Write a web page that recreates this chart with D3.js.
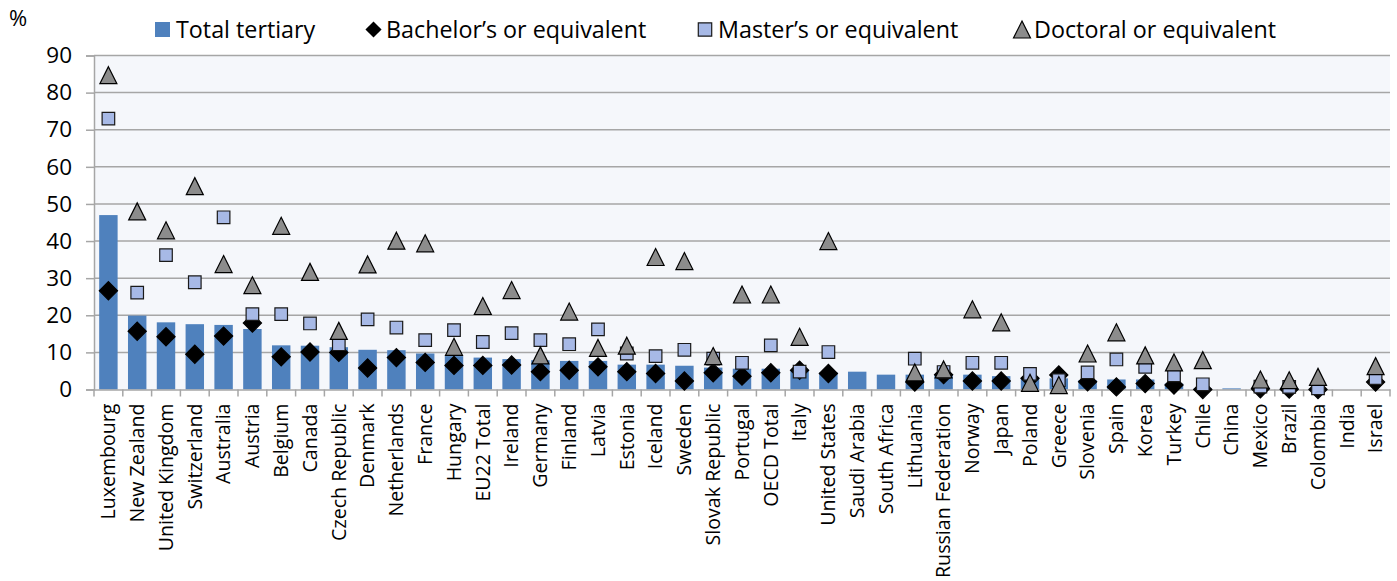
<!DOCTYPE html>
<html>
<head>
<meta charset="utf-8">
<script src="https://cdn.jsdelivr.net/npm/d3@7"></script>
<style>
  body { margin: 0; background: #fff; }
  text { font-family: "Open Sans", "Noto Sans", sans-serif; fill: #000; }
</style>
</head>
<body>
<svg id="chart" width="1397" height="581"></svg>
<script>

var countries = ["Luxembourg", "New Zealand", "United Kingdom", "Switzerland", "Australia", "Austria",
    "Belgium", "Canada", "Czech Republic", "Denmark", "Netherlands", "France", "Hungary", "EU22 Total",
    "Ireland", "Germany", "Finland", "Latvia", "Estonia", "Iceland", "Sweden", "Slovak Republic",
    "Portugal", "OECD Total", "Italy", "United States", "Saudi Arabia", "South Africa", "Lithuania",
    "Russian Federation", "Norway", "Japan", "Poland", "Greece", "Slovenia", "Spain", "Korea", "Turkey",
    "Chile", "China", "Mexico", "Brazil", "Colombia", "India", "Israel"];

var total = [47.0, 19.9, 18.1, 17.6, 17.4, 16.3, 11.9, 11.8, 11.4, 10.7, 10.6, 9.7, 9.0, 8.6,
    8.2, 7.9, 7.7, 7.7, 6.7, 6.7, 6.4, 5.9, 5.6, 5.6, 5.2, 4.6, 4.8, 4.0, 4.0,
    4.0, 4.0, 3.6, 3.0, 3.0, 2.5, 2.7, 2.7, 1.6, 0.3, 0.3, 0.3, 0.3, 0.2, null, null];

var bachelor = [26.6, 15.7, 14.2, 9.5, 14.4, 17.9, 8.8, 10.1, 10.0, 5.8, 8.6, 7.3, 6.5, 6.5,
    6.6, 4.8, 5.2, 6.1, 4.8, 4.3, 2.3, 4.5, 3.6, 4.5, 5.2, 4.3, null, null, 2.0,
    4.0, 2.3, 2.3, 3.0, 3.9, 2.1, 0.7, 1.6, 1.2, 0.0, null, 0.2, 0.1, 0.0, null, 2.0];

var master = [73.0, 26.1, 36.2, 28.9, 46.4, 20.3, 20.3, 17.8, 12.2, 18.9, 16.7, 13.3, 16.0, 12.8,
    15.2, 13.3, 12.2, 16.2, 9.7, 9.0, 10.7, 8.3, 7.2, 11.9, 4.8, 10.1, null, null, 8.3,
    4.7, 7.2, 7.2, 4.2, 2.5, 4.6, 8.1, 6.1, 3.8, 1.4, null, 0.8, 0.7, 0.3, null, 3.1];

var doctoral = [84.7, 48.0, 42.9, 54.8, 33.8, 28.1, 44.1, 31.7, 15.8, 33.7, 40.1, 39.4, 11.5, 22.5,
    26.8, 9.2, 21.0, 11.2, 11.8, 35.7, 34.6, 9.0, 25.6, 25.6, 14.2, 40.0, null, null, 4.6,
    5.4, 21.6, 18.1, 1.8, 1.2, 9.7, 15.4, 9.2, 7.3, 7.9, null, 2.7, 2.5, 3.4, null, 6.3];

var yTicks = [0, 10, 20, 30, 40, 50, 60, 70, 80, 90];
var legendLabels = ["Total tertiary", "Bachelor\u2019s or equivalent", "Master\u2019s or equivalent", "Doctoral or equivalent"];


var svg = d3.select("#chart");
var margin = {left: 94, right: 7, top: 55.5, bottom: 191.5};
var width  = +svg.attr("width")  - margin.left - margin.right,
    height = +svg.attr("height") - margin.top  - margin.bottom;

var x = d3.scaleBand().domain(countries).range([0, width]).paddingInner(0.36).paddingOuter(0.18);
var xc = d3.scaleBand().domain(countries).range([0, width]);
var y = d3.scaleLinear().domain([0, 90]).range([height, 0]);

var g = svg.append("g").attr("transform", "translate(" + margin.left + "," + margin.top + ")");

// plot background + gridlines
g.append("rect").attr("width", width).attr("height", height).attr("fill", "#F5F7FB");
g.selectAll(".grid").data(yTicks.slice(1)).enter().append("line")
    .attr("x1", 0).attr("x2", width)
    .attr("y1", d => y(d)).attr("y2", d => y(d))
    .attr("stroke", "#A6A6A6").attr("stroke-width", 1.5);

// bars
g.selectAll(".bar").data(countries).enter().append("rect")
    .filter((d, i) => total[i] != null)
    .attr("x", d => x(d))
    .attr("width", x.bandwidth())
    .attr("y", d => y(total[countries.indexOf(d)]))
    .attr("height", d => height - y(total[countries.indexOf(d)]))
    .attr("fill", "#4F81BD");

// axes
var yAxis = g.append("g").call(d3.axisLeft(y).tickValues(yTicks).tickSize(8).tickPadding(14));
yAxis.select(".domain").attr("stroke", "#A6A6A6").attr("stroke-width", 1.5);
yAxis.selectAll(".tick line").attr("stroke", "#A6A6A6").attr("stroke-width", 1.5);
yAxis.selectAll("text").attr("font-size", "22.5px").attr("font-family", "Open Sans");

var xAxis = g.append("g").attr("transform", "translate(0," + height + ")")
    .call(d3.axisBottom(xc).tickSize(0).tickPadding(0));
xAxis.select(".domain").attr("stroke", "#A6A6A6").attr("stroke-width", 1.5);
xAxis.selectAll("text")
    .attr("font-size", "19.6px").attr("font-family", "Open Sans")
    .attr("transform", "rotate(-90)")
    .attr("text-anchor", "end")
    .attr("x", -14).attr("y", 0).attr("dy", "0.35em");
// category boundary ticks
g.selectAll(".xtick").data(countries.concat(["_end"])).enter().append("line")
    .attr("x1", (d, i) => i * xc.step()).attr("x2", (d, i) => i * xc.step())
    .attr("y1", height).attr("y2", height + 7)
    .attr("stroke", "#A6A6A6").attr("stroke-width", 1.5);

var cx = d => xc(d) + xc.bandwidth() / 2;

// excel style triangle: as tall as wide, centred on its box
function tri(w) {
    return "M0," + (-w / 2) + "L" + (w / 2) + "," + (w / 2) + "L" + (-w / 2) + "," + (w / 2) + "Z";
}
var diamond = d3.symbol().type(d3.symbolSquare).size(165);
var square = d3.symbol().type(d3.symbolSquare).size(158);

function markers(values, pathFn, rot, fill, stroke) {
    g.append("g").selectAll("path").data(countries).enter().append("path")
        .filter((d, i) => values[i] != null)
        .attr("d", pathFn)
        .attr("transform", d => "translate(" + cx(d) + "," + y(values[countries.indexOf(d)]) + ")" + rot)
        .attr("fill", fill).attr("stroke", stroke).attr("stroke-width", 1.2);
}

markers(bachelor, diamond, " rotate(45)", "#000", "#000");
markers(master, square, "", "#A7B9E6", "#1a1a1a");
markers(doctoral, tri(17), "", "#8C8C8C", "#000");

// legend
var legX = [155, 365, 697, 1013];
var leg = svg.append("g");
leg.append("rect").attr("x", legX[0]).attr("y", 22).attr("width", 15).attr("height", 15).attr("fill", "#4F81BD");
leg.append("path").attr("d", d3.symbol().type(d3.symbolSquare).size(130))
    .attr("transform", "translate(" + (legX[1] + 8.5) + ",29.5) rotate(45)").attr("fill", "#000");
leg.append("path").attr("d", d3.symbol().type(d3.symbolSquare).size(180))
    .attr("transform", "translate(" + (legX[2] + 8) + ",29.5)").attr("fill", "#A7B9E6").attr("stroke", "#1a1a1a").attr("stroke-width", 1.2);
leg.append("path").attr("d", tri(17))
    .attr("transform", "translate(" + (legX[3] + 9) + ",29.5)").attr("fill", "#8C8C8C").attr("stroke", "#000").attr("stroke-width", 1.2);
leg.selectAll("text").data(legendLabels).enter().append("text")
    .attr("x", (d, i) => legX[i] + 21)
    .attr("y", 30).attr("dy", "0.35em")
    .attr("font-size", "23.3px")
    .text(d => d);

svg.append("text").attr("x", 9).attr("y", 26).attr("font-size", "22px").text("%");

</script>
</body>
</html>
